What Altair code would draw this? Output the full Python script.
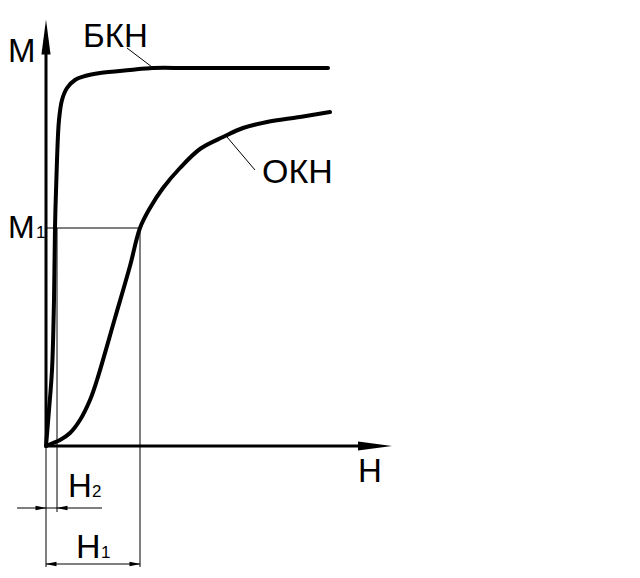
import altair as alt
import pandas as pd

# Curve values (H, M), origin at axis crossing
bkn_h = [0, 3, 6, 8, 9, 11, 13, 16, 21, 29, 39, 54, 84, 107, 144, 282]
bkn_m = [0, 36, 76, 146, 218, 286, 326, 346, 358, 366, 370, 373, 376, 378, 378, 378]

okn_h = [0, 7, 14, 24, 34, 44, 51, 69, 84, 94, 104, 117, 134, 154, 177, 197, 221, 254, 284]
okn_m = [0, 3, 6, 13, 26, 46, 66, 128, 180, 218, 238, 258, 278, 297, 309, 318, 324, 329, 334]

# Key values
H1 = 94
H2 = 11
M1 = 218
H_MAX = 346
M_MAX = 426

curve_names = ["БКН", "ОКН"]

W, H = 624, 562
xs = alt.Scale(domain=[-38, 586])
ys = alt.Scale(domain=[-124, 438])

def seg(points):
    return pd.DataFrame({"x": [p[0] for p in points], "y": [p[1] for p in points],
                         "i": list(range(len(points)))})

bkn_df = pd.DataFrame({"x": bkn_h, "y": bkn_m, "i": range(len(bkn_h))})
okn_df = pd.DataFrame({"x": okn_h, "y": okn_m, "i": range(len(okn_h))})

def curve(df, width):
    return alt.Chart(df).mark_line(color="black", strokeWidth=width, interpolate="catmull-rom",
                                   strokeCap="round").encode(
        x=alt.X("x:Q", scale=xs, axis=None),
        y=alt.Y("y:Q", scale=ys, axis=None),
        order="i:Q")

def line(points, width):
    return alt.Chart(seg(points)).mark_line(color="black", strokeWidth=width).encode(
        x=alt.X("x:Q", scale=xs, axis=None),
        y=alt.Y("y:Q", scale=ys, axis=None),
        order="i:Q")

layers = []
# axes
layers.append(line([(0, 0), (0, M_MAX - 30)], 3))
layers.append(line([(0, 0), (H_MAX - 30, 0)], 3))
# curves
layers.append(curve(bkn_df, 4))
layers.append(curve(okn_df, 4))
# thin construction lines
layers.append(line([(0, M1), (H1, M1)], 1))
layers.append(line([(H1, M1), (H1, -121)], 1))
layers.append(line([(H2, M1), (H2, -66)], 1))
layers.append(line([(0, 0), (0, -121)], 1))
layers.append(line([(-29, -62), (56, -62)], 1))
layers.append(line([(0, -118), (H1, -118)], 1))
# leaders
layers.append(line([(81, 398), (106, 379)], 1))
layers.append(line([(181, 309), (209, 276)], 1))

# arrowheads
right_arrow = "M1,0 L-1,-0.27 L-1,0.27 Z"
up_arrow = "M0,-1 L-0.26,1 L0.26,1 Z"
small_right = "M1,0 L-1,-0.4 L-1,0.4 Z"

def arrow(x, y, shape, size, angle=0):
    return alt.Chart(pd.DataFrame({"x": [x], "y": [y]})).mark_point(
        shape=shape, size=size, filled=True, color="black", opacity=1, angle=angle,
        strokeWidth=0).encode(
        x=alt.X("x:Q", scale=xs, axis=None),
        y=alt.Y("y:Q", scale=ys, axis=None))

layers.append(arrow(0, M_MAX - 17, up_arrow, 35 * 35))
layers.append(arrow(H_MAX - 17, 0, right_arrow, 34 * 34))
# H2 dimension arrows (outside pointing in)
layers.append(arrow(-5, -62, small_right, 11 * 11))
layers.append(arrow(16, -62, small_right, 11 * 11, 180))
# H1 dimension arrows
layers.append(arrow(5, -118, small_right, 11 * 11, 180))
layers.append(arrow(H1 - 5, -118, small_right, 11 * 11))

# texts
txt_label = ["M", "M", "1", "БКН", "ОКН", "H", "H", "2", "H", "1"]
txt_x = [-38, -38, -10, 37, 216, 312, 22, 46, 30, 55]
txt_y = [384, 208, 208, 399, 263, -36, -51, -51, -112, -112]
txt_size = [33, 32, 17, 33, 34, 33, 33, 17, 34, 17]
txt_df = pd.DataFrame({"t": txt_label, "x": txt_x, "y": txt_y, "s": txt_size})
layers.append(alt.Chart(txt_df).mark_text(align="left", baseline="alphabetic",
                                          font="Liberation Sans", color="black").encode(
    x=alt.X("x:Q", scale=xs, axis=None),
    y=alt.Y("y:Q", scale=ys, axis=None),
    text="t:N",
    size=alt.Size("s:Q", scale=None, legend=None)))

chart = alt.layer(*layers).properties(
    width=W, height=H, padding=0, autosize=alt.AutoSizeParams(type="none"),
    background="white"
).configure_view(stroke=None)

chart.save("out.html", embed_options={"renderer": "svg", "actions": False})
